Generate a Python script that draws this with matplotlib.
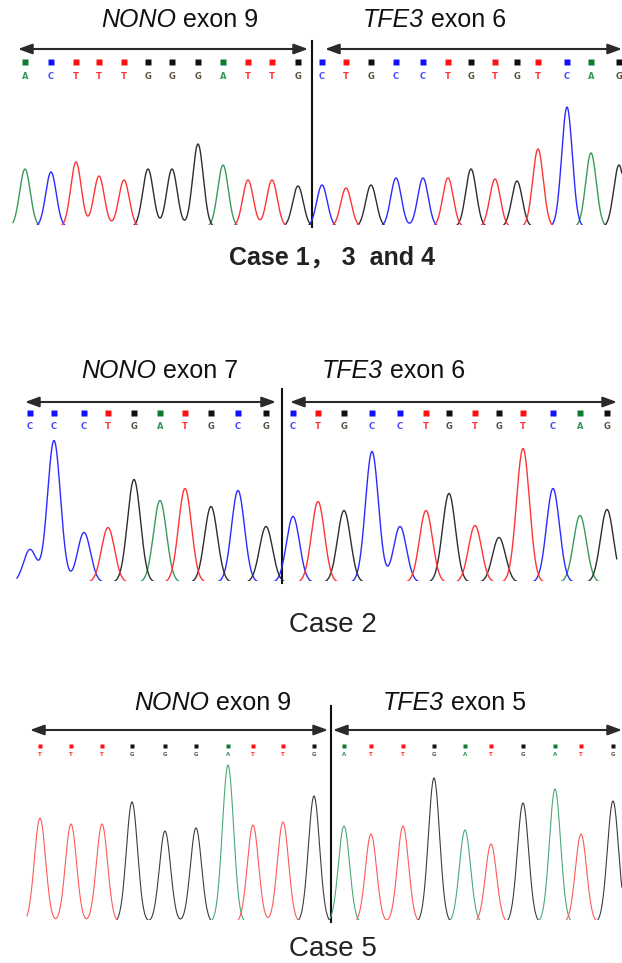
import numpy as np
import matplotlib.pyplot as plt

# Case 1, 3 and 4: NONO exon 9 | TFE3 exon 6
case1_bases = 'ACTTTGGGATTG' + 'CTGCCTGTGTCAG'
case1_split = 12
case1_pos = [25, 51, 76, 99, 124, 148, 172, 198, 223, 248, 272, 298,
             322, 346, 371, 396, 423, 448, 471, 495, 517, 538, 567, 591, 619]
case1_peak = [58, 55, 65, 51, 47, 58, 58, 83, 62, 47, 47, 41,
              42, 39, 42, 49, 49, 49, 58, 48, 46, 78, 120, 74, 62]

# Case 2: NONO exon 7 | TFE3 exon 6
case2_bases = 'CCCTGATGCG' + 'CTGCCTGTGTCAG'
case2_split = 10
case2_pos = [30, 54, 84, 108, 134, 160, 185, 211, 238, 266,
             293, 318, 344, 372, 400, 426, 449, 475, 499, 523, 553, 580, 607]
case2_peak = [33, 142, 50, 55, 103, 82, 94, 76, 92, 56,
              66, 81, 72, 131, 56, 72, 89, 57, 45, 134, 94, 67, 73]

# Case 5: NONO exon 9 | TFE3 exon 5
case5_bases = 'TTTGGGATTG' + 'ATTGATGATG'
case5_split = 10
case5_pos = [40, 71, 102, 132, 165, 196, 228, 253, 283, 314,
             344, 371, 403, 434, 465, 491, 523, 555, 581, 613]
case5_peak = [105, 99, 99, 121, 92, 95, 158, 98, 101, 127,
              97, 89, 97, 145, 93, 79, 120, 134, 89, 122]

W, H = 622, 963
fig = plt.figure(figsize=(W / 100, H / 100), dpi=100)
ov = fig.add_axes([0, 0, 1, 1])
ov.set_xlim(0, W)
ov.set_ylim(H, 0)
ov.axis('off')

sq_col = {'A': '#0f7a30', 'C': '#1010ff', 'T': '#ff1010', 'G': '#111111'}
let_col = {'A': '#2f9a55', 'C': '#4a4aff', 'T': '#ff3030', 'G': '#5a5040'}


def draw_panel(bases, pos, peak, split, names, caption, lay):
    pos = np.asarray(pos, float)
    peak = np.asarray(peak, float)
    bases = np.array(list(bases))

    # trace: one curve per dye, clipped at the baseline by the axes
    tr = fig.add_axes([0, 1 - lay['base'] / H, 1, lay['h'] / H])
    tr.set_xlim(0, W)
    tr.set_ylim(lay['clip'], lay['clip'] + lay['h'])
    tr.axis('off')
    x = np.arange(lay['x0'], lay['x1'], 0.25)
    for b in 'ACGT':
        m = bases == b
        if not m.any():
            continue
        y = (peak[m, None] * np.exp(-0.5 * ((x - pos[m, None]) / lay['sigma']) ** 2)).sum(0)
        tr.plot(x, y, color=lay['trace'][b], lw=lay['lw'])

    # base calls
    for b in 'ACGT':
        m = bases == b
        ov.plot(pos[m], np.full(m.sum(), lay['sq_y']), 's', ms=lay['ms'],
                color=sq_col[b], mec='none')
    for p, b in zip(pos, bases):
        ov.text(p, lay['let_y'], b, ha='center', va='center', color=let_col[b],
                fontsize=lay['fs'], fontweight='bold', family='DejaVu Sans')

    # junction line
    xj = (pos[split - 1] + pos[split]) / 2 + 2
    ov.plot([xj, xj], [lay['line_top'], lay['base'] + 2], color='#111111', lw=1.5)

    # exon arrows and titles (italic gene name + upright exon)
    for (a0, a1), gx, (gene, exon) in zip(lay['arrows'], lay['title_x'], names):
        ov.annotate('', xy=(a1, lay['arrow_y']), xytext=(a0, lay['arrow_y']),
                    arrowprops=dict(arrowstyle='<|-|>,head_length=0.6,head_width=0.22',
                                    color='#2a2a2a', lw=1.5, shrinkA=0, shrinkB=0,
                                    mutation_scale=14))
        ov.text(gx, lay['title_y'], gene, ha='right', va='center', style='italic',
                fontsize=lay['title_fs'], family='Liberation Sans', color='#111111')
        ov.text(gx, lay['title_y'], ' ' + exon, ha='left', va='center',
                fontsize=lay['title_fs'], family='Liberation Sans', color='#111111')

    ov.text(lay['cap_x'], lay['cap_y'], caption, ha='center', va='center',
            fontsize=lay['cap_fs'], color='#222222', **lay['cap_kw'])


trace_dark = {'A': '#3a9a5c', 'C': '#2b2bff', 'T': '#ff3434', 'G': '#2e2e2e'}
trace_light = {'A': '#4aaa78', 'C': '#3a3aff', 'T': '#ff5a5a', 'G': '#3c3c3c'}

draw_panel(case1_bases, case1_pos, case1_peak, case1_split,
           [('NONO', 'exon 9'), ('TFE3', 'exon 6')], 'Case 1， 3  and 4',
           dict(base=225, h=140, clip=2.0, x0=13, x1=622, sigma=5.3, lw=1.0,
                trace=trace_dark, sq_y=62.5, let_y=76.5, ms=5, fs=6,
                line_top=41, arrow_y=49, arrows=[(18, 308), (325, 622)],
                title_x=[176, 424], title_y=20, title_fs=18,
                cap_x=332, cap_y=257, cap_fs=18,
                cap_kw=dict(family=['Liberation Sans', 'Noto Sans CJK SC'], fontweight='bold')))

draw_panel(case2_bases, case2_pos, case2_peak, case2_split,
           [('NONO', 'exon 7'), ('TFE3', 'exon 6')], 'Case 2',
           dict(base=581, h=160, clip=1.5, x0=17, x1=617, sigma=6.5, lw=1.0,
                trace=trace_dark, sq_y=413, let_y=426.5, ms=4.3, fs=6,
                line_top=389, arrow_y=402, arrows=[(25, 276), (290, 617)],
                title_x=[156, 383], title_y=371, title_fs=18,
                cap_x=333, cap_y=625, cap_fs=20,
                cap_kw=dict(family='Liberation Sans')))

draw_panel(case5_bases, case5_pos, case5_peak, case5_split,
           [('NONO', 'exon 9'), ('TFE3', 'exon 5')], 'Case 5',
           dict(base=920, h=175, clip=3.0, x0=27, x1=622, sigma=5.6, lw=0.8,
                trace=trace_light, sq_y=746, let_y=754, ms=3, fs=4,
                line_top=706, arrow_y=730, arrows=[(30, 328), (333, 622)],
                title_x=[209, 444], title_y=703, title_fs=18,
                cap_x=333, cap_y=949, cap_fs=20,
                cap_kw=dict(family='Liberation Sans')))

fig.savefig('out.png', dpi=100)
